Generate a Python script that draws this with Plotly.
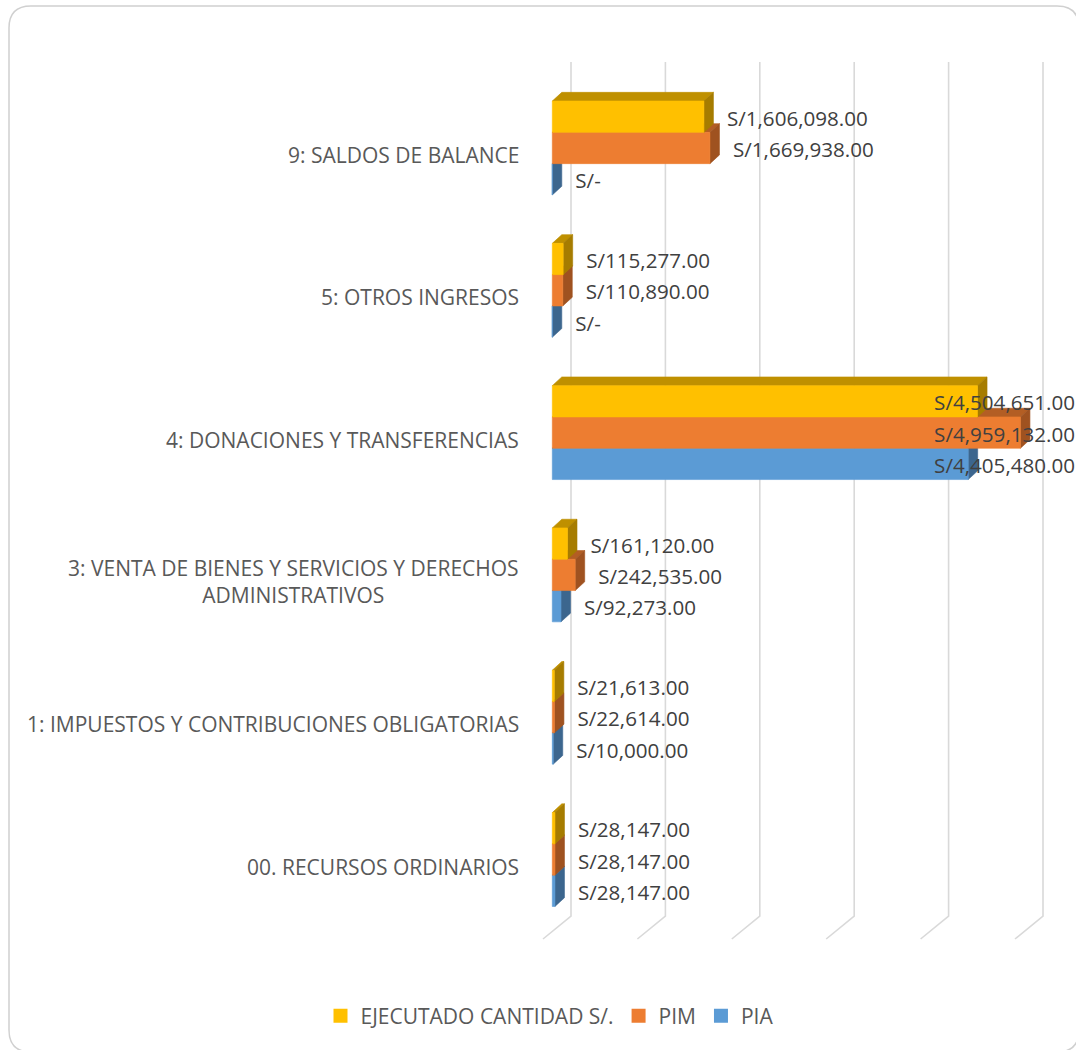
import plotly.graph_objects as go

# ---------------- data ----------------
categories = [
    "00. RECURSOS ORDINARIOS",
    "1: IMPUESTOS Y CONTRIBUCIONES OBLIGATORIAS",
    "3: VENTA DE BIENES Y SERVICIOS Y DERECHOS<br>ADMINISTRATIVOS",
    "4: DONACIONES Y TRANSFERENCIAS",
    "5: OTROS INGRESOS",
    "9: SALDOS DE BALANCE",
]
pia = [28147, 10000, 92273, 4405480, 0, 0]
pim = [28147, 22614, 242535, 4959132, 110890, 1669938]
ejecutado = [28147, 21613, 161120, 4504651, 115277, 1606098]
series_names = ["PIA", "PIM", "EJECUTADO CANTIDAD S/."]
x_ticks = [0, 1_000_000, 2_000_000, 3_000_000, 4_000_000, 5_000_000]

# ---------------- styling / geometry ----------------
W, H = 1076, 1050
front_colors = ["#5B9BD5", "#ED7D31", "#FFC000"]
top_colors = ["#44739E", "#B35E24", "#BF9000"]
side_colors = ["#3C668E", "#9F5220", "#A67C00"]

PX_X = 94.4 / 1e6      # px per value unit
PX_Y = 142.3           # px per category unit
X0_PX = 552.3          # pixel of value 0
Y0_PX = 859.5          # pixel of category index 0
x_range = [-0.15e6, 5.545e6]
y_range = [-0.6, 5.65]

def px_x(v):
    return X0_PX + v * PX_X

def px_y(v):
    return Y0_PX - v * PX_Y

x_domain = [px_x(x_range[0]) / W, min(1.0, px_x(x_range[1]) / W)]
y_domain = [1 - px_y(y_range[0]) / H, 1 - px_y(y_range[1]) / H]

DX = 9.5 / PX_X        # depth offset in value units
DY = 8.7 / PX_Y        # depth offset in category units
BAR_T = 0.22           # bar thickness in category units
LABEL_DX = 23 / PX_X
LABEL_DY = -4 / PX_Y
LABEL_MAX_X = (1075 - X0_PX) / PX_X

font_family = "Open Sans, Lato, sans-serif"
cat_size = 21
data_size = 20.6

fig = go.Figure()

series_vals = [pia, pim, ejecutado]

def face_polys(vals, s, kind):
    xs, ys = [], []
    for i, v in enumerate(vals):
        lo = i - 1.5 * BAR_T + s * BAR_T
        hi = lo + BAR_T
        if kind == "front":
            pts = [(0, lo), (v, lo), (v, hi), (0, hi)]
        elif kind == "side":
            pts = [(v, lo), (v + DX, lo + DY), (v + DX, hi + DY), (v, hi)]
        else:
            pts = [(0, hi), (v, hi), (v + DX, hi + DY), (DX, hi + DY)]
        for p in pts:
            xs.append(p[0]); ys.append(p[1])
        xs.append(pts[0][0]); ys.append(pts[0][1])
        xs.append(None); ys.append(None)
    return xs, ys

for s, vals in enumerate(series_vals):
    for kind, col in (("top", top_colors[s]), ("side", side_colors[s]), ("front", front_colors[s])):
        xs, ys = face_polys(vals, s, kind)
        fig.add_trace(go.Scatter(
            x=xs, y=ys, mode="lines", fill="toself", fillcolor=col,
            line=dict(color=col, width=0.6), hoverinfo="skip", showlegend=False,
        ))

# data labels (kept inside the chart area like Excel does)
for s, vals in enumerate(series_vals):
    lx, ly, txt, pos = [], [], [], []
    for i, v in enumerate(vals):
        center = i - 1.5 * BAR_T + s * BAR_T + BAR_T / 2
        t = "S/{:,.2f}".format(v) if v else "S/-"
        if v + LABEL_DX + 1.6e6 > LABEL_MAX_X:
            lx.append(LABEL_MAX_X); pos.append("middle left")
        else:
            lx.append(v + LABEL_DX); pos.append("middle right")
        ly.append(center + LABEL_DY); txt.append(t)
    fig.add_trace(go.Scatter(
        x=lx, y=ly, mode="text", text=txt, textposition=pos,
        textfont=dict(family=font_family, size=data_size, color="#404040"),
        hoverinfo="skip", showlegend=False, cliponaxis=False,
    ))

# legend entries
for s in [2, 1, 0]:
    fig.add_trace(go.Scatter(
        x=[None], y=[None], mode="markers", name=series_names[s],
        marker=dict(symbol="square", size=14, color=front_colors[s]),
    ))

# gridlines (3D walls)
GRID_BACK = 18.7 / PX_X
GRID_FRONT = -9.3 / PX_X
y_top = (Y0_PX - 62) / PX_Y
y_back_bot = (Y0_PX - 916) / PX_Y
y_floor = (Y0_PX - 939) / PX_Y
shapes = []
for t in x_ticks:
    shapes.append(dict(
        type="path", xref="x", yref="y", layer="below",
        path=f"M {t + GRID_BACK},{y_top} L {t + GRID_BACK},{y_back_bot} L {t + GRID_FRONT},{y_floor}",
        line=dict(color="#D9D9D9", width=1.6),
    ))

# rounded border
def P(px, py):
    return f"{px / W},{1 - py / H}"

bx0, by0, bx1, by1, r = 9, 6, 1079, 1052, 22
border = (f"M {P(bx0 + r, by0)} L {P(bx1 - r, by0)} Q {P(bx1, by0)} {P(bx1, by0 + r)} "
          f"L {P(bx1, by1 - r)} Q {P(bx1, by1)} {P(bx1 - r, by1)} "
          f"L {P(bx0 + r, by1)} Q {P(bx0, by1)} {P(bx0, by1 - r)} "
          f"L {P(bx0, by0 + r)} Q {P(bx0, by0)} {P(bx0 + r, by0)} Z")
shapes.append(dict(type="path", xref="paper", yref="paper", path=border,
                   line=dict(color="#D0D0D0", width=1.5), layer="below"))

# category labels
annotations = []
for i, c in enumerate(categories):
    annotations.append(dict(
        x=521 / W, xref="paper", y=i, yref="y", yshift=-7,
        text=c, showarrow=False, xanchor="right", yanchor="middle", align="center",
        font=dict(family=font_family, size=cat_size, color="#595959"),
    ))

fig.update_layout(
    width=W, height=H,
    margin=dict(l=0, r=0, t=0, b=0),
    paper_bgcolor="white", plot_bgcolor="rgba(0,0,0,0)",
    xaxis=dict(domain=x_domain, range=x_range, showgrid=False, zeroline=False,
               showticklabels=False, showline=False, fixedrange=True),
    yaxis=dict(domain=y_domain, range=y_range, showgrid=False, zeroline=False,
               showticklabels=False, showline=False, fixedrange=True),
    shapes=shapes,
    annotations=annotations,
    showlegend=True,
    legend=dict(orientation="h", x=549.5 / W, xanchor="center", y=1 - 1016 / H, yanchor="middle",
                font=dict(family=font_family, size=21, color="#595959"),
                itemwidth=30),
)

fig.write_html("out.html")
